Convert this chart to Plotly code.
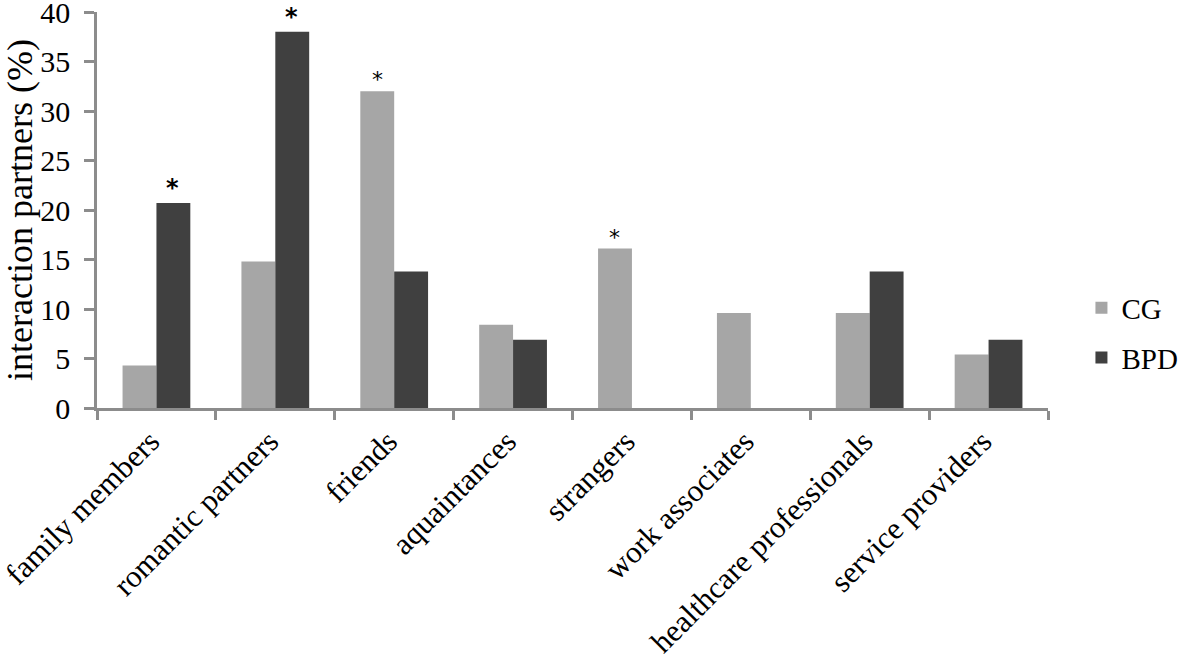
import plotly.graph_objects as go

categories = ["family members", "romantic partners", "friends", "aquaintances",
              "strangers", "work associates", "healthcare professionals", "service providers"]
cg_values = [4.3, 14.8, 32.0, 8.4, 16.1, 9.6, 9.6, 5.4]
bpd_values = [20.7, 38.0, 13.8, 6.9, 0, 0, 13.8, 6.9]
cg_sig = [False, False, True, False, True, False, False, False]
bpd_sig = [True, True, False, False, False, False, False, False]
y_ticks = [0, 5, 10, 15, 20, 25, 30, 35, 40]

FONT = "Liberation Serif"
AXIS = "#8c8c8c"

fig = go.Figure()
fig.add_trace(go.Bar(name="CG", x=categories, y=cg_values, legendgroup="cg",
                     marker=dict(color="#a6a6a6", line=dict(width=0))))
fig.add_trace(go.Bar(name="BPD", x=categories, y=bpd_values, legendgroup="bpd",
                     marker=dict(color="#404040", line=dict(width=0))))

bar_px = 34
for cat, v, s in zip(categories, cg_values, cg_sig):
    if s:
        fig.add_annotation(x=cat, y=v, text="*", showarrow=False, yanchor="bottom",
                           xshift=-bar_px / 2, yshift=-3,
                           font=dict(family="DejaVu Sans", size=22, color="black"))
for cat, v, s in zip(categories, bpd_values, bpd_sig):
    if s:
        fig.add_annotation(x=cat, y=v, text="<b>*</b>", showarrow=False, yanchor="bottom",
                           xshift=bar_px / 2 - 1, yshift=-1,
                           font=dict(family="DejaVu Sans", size=24, color="black"))

fig.update_layout(
    width=1181, height=663,
    margin=dict(l=97, r=133, t=12, b=255),
    plot_bgcolor="white", paper_bgcolor="white",
    barmode="group", bargap=0.43, bargroupgap=0,
    font=dict(family=FONT, size=30, color="black"),
    legend=dict(xref="container", yref="container", x=0.9157, y=0.498,
                xanchor="left", yanchor="middle", traceorder="grouped", tracegroupgap=9,
                font=dict(family=FONT, size=29), itemsizing="constant",
                bgcolor="rgba(0,0,0,0)", itemwidth=30),
    xaxis=dict(showline=True, linecolor=AXIS, linewidth=2.5,
               ticks="outside", tickson="boundaries", ticklen=9, tickcolor=AXIS, tickwidth=2.5,
               tickangle=-45, tickfont=dict(family=FONT, size=31), ticklabelshift=-6,
               showgrid=False, zeroline=False, automargin=False),
    yaxis=dict(range=[0, 40], tickvals=y_ticks, showline=True, linecolor=AXIS, linewidth=2.5,
               ticks="outside", ticklen=10, tickcolor=AXIS, tickwidth=2.5,
               tickfont=dict(family=FONT, size=30), showgrid=False, zeroline=False,
               ticklabeloverflow="allow", automargin=False, ticklabelstandoff=8,
               title=dict(text="interaction partners (%)", font=dict(family=FONT, size=36),
                          standoff=15)),
)

fig.write_html("out.html", post_script="document.body.style.margin='0';",
               config={"displayModeBar": False})
